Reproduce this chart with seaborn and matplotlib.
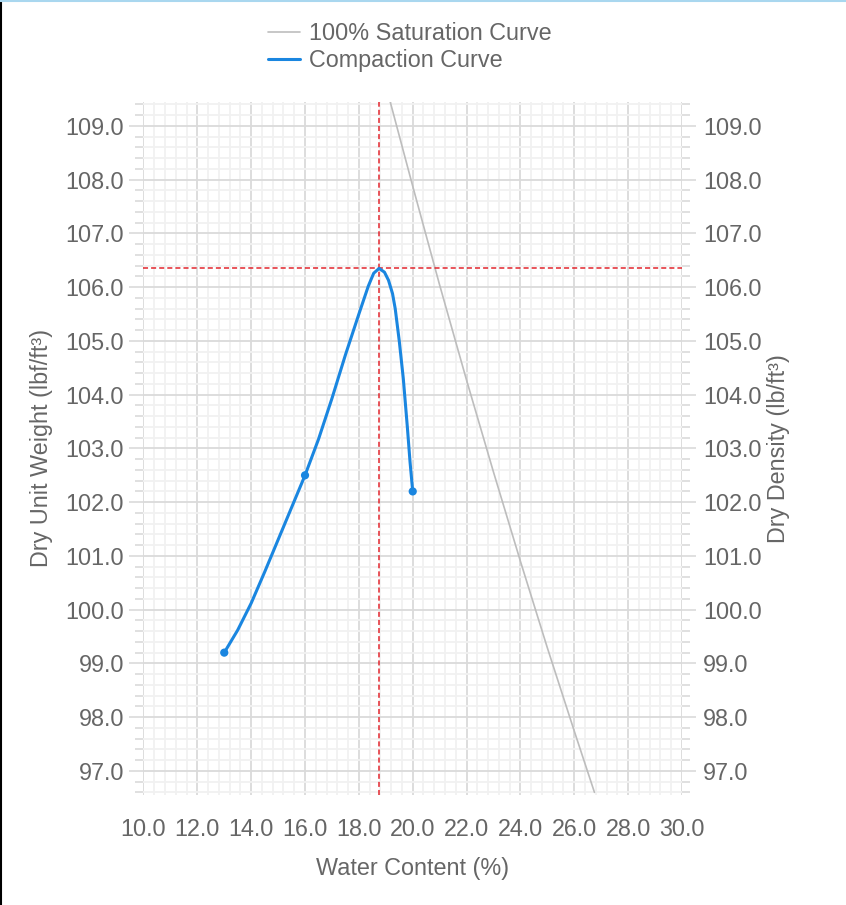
import matplotlib
matplotlib.use("Agg")
import matplotlib.pyplot as plt
from matplotlib.ticker import MultipleLocator, FormatStrFormatter
from matplotlib.lines import Line2D
import seaborn as sns
import pandas as pd

# Compaction test points (water content %, dry unit weight lbf/ft3)
test_wc = [13.0, 16.0, 20.0]
test_dd = [99.2, 102.5, 102.2]

# Smoothed compaction curve
curve_wc = [13.0, 13.5, 14.0, 14.5, 15.0, 15.5, 16.0, 16.5, 17.0, 17.5, 18.0, 18.35,
            18.55, 18.75, 18.95, 19.1, 19.25, 19.35, 19.5, 19.65, 19.8, 19.9, 20.0]
curve_dd = [99.2, 99.62, 100.12, 100.7, 101.3, 101.9, 102.5, 103.17, 103.93, 104.74, 105.5, 106.02,
            106.26, 106.35, 106.28, 106.13, 105.88, 105.6, 105.0, 104.3, 103.4, 102.75, 102.2]

# 100% saturation (zero air voids) line
sat_wc = [19.1, 20.0, 21.0, 22.0, 23.0, 24.0, 25.0, 26.0, 26.75]
sat_dd = [109.57, 107.88, 106.04, 104.27, 102.56, 100.9, 99.29, 97.74, 96.6]

# Optimum water content / max dry unit weight
opt_wc = 18.75
max_dd = 106.35

x_ticks = [10, 12, 14, 16, 18, 20, 22, 24, 26, 28, 30]
y_ticks = [97, 98, 99, 100, 101, 102, 103, 104, 105, 106, 107, 108, 109]

text_col = "#666666"
grid_major = "#dadada"
grid_minor = "#f1f1f1"
blue = "#1a86e0"
red = "#e3262e"
gray = "#bdbdbd"
fs = 16.8

sns.set_theme(style="white")
plt.rcParams["font.family"] = ["Liberation Sans", "DejaVu Sans"]

fig = plt.figure(figsize=(8.46, 9.05), dpi=100)
ax = fig.add_axes([0.1696, 0.1215, 0.6365, 0.766])

sat_df = pd.DataFrame({"wc": sat_wc, "dd": sat_dd})
curve_df = pd.DataFrame({"wc": curve_wc, "dd": curve_dd})
test_df = pd.DataFrame({"wc": test_wc, "dd": test_dd})

sns.lineplot(data=sat_df, x="wc", y="dd", ax=ax, color=gray, linewidth=1.2,
             sort=False, label="100% Saturation Curve", zorder=3)
sns.lineplot(data=curve_df, x="wc", y="dd", ax=ax, color=blue, linewidth=2.2,
             sort=False, label="Compaction Curve", zorder=4)
sns.scatterplot(data=test_df, x="wc", y="dd", ax=ax, color=blue, s=35,
                edgecolor="none", zorder=5, legend=False)

ax.axvline(opt_wc, color=red, linewidth=1.1, linestyle=(0, (3.3, 2)), zorder=3)
ax.axhline(max_dd, color=red, linewidth=1.1, linestyle=(0, (3.3, 2)), zorder=3)

ax.set_xlim(10, 30)
ax.set_ylim(96.55, 109.45)
ax.set_xticks(x_ticks)
ax.set_yticks(y_ticks)
ax.xaxis.set_minor_locator(MultipleLocator(0.4))
ax.yaxis.set_minor_locator(MultipleLocator(0.2))
ax.xaxis.set_major_formatter(FormatStrFormatter("%.1f"))
ax.yaxis.set_major_formatter(FormatStrFormatter("%.1f"))

ax.grid(which="major", color=grid_major, linewidth=1.3, zorder=1)
ax.grid(which="minor", color=grid_minor, linewidth=1.3, zorder=0)
ax.set_axisbelow(True)
for s in ax.spines.values():
    s.set_visible(False)

ax.tick_params(axis="both", which="both", colors=grid_major, labelcolor=text_col,
               labelsize=fs, width=1.2)
ax.tick_params(axis="y", which="major", length=10, pad=4)
ax.tick_params(axis="y", which="minor", length=5.5)
ax.tick_params(axis="x", which="major", length=9.5, pad=7)
ax.tick_params(axis="x", which="minor", length=4)

ax.set_xlabel("Water Content (%)", fontsize=fs, color=text_col)
ax.set_ylabel("Dry Unit Weight (lbf/ft³)", fontsize=fs, color=text_col)
ax.xaxis.set_label_coords(0.5, -0.09)
ax.yaxis.set_label_coords(-0.168, 0.5)

# Right hand axis with the same scale
ax2 = ax.twinx()
ax2.set_ylim(ax.get_ylim())
ax2.set_yticks(y_ticks)
ax2.yaxis.set_minor_locator(MultipleLocator(0.2))
ax2.yaxis.set_major_formatter(FormatStrFormatter("%.1f"))
ax2.grid(False)
for s in ax2.spines.values():
    s.set_visible(False)
ax2.tick_params(axis="y", which="both", colors=grid_major, labelcolor=text_col,
                labelsize=fs, width=1.2)
ax2.tick_params(axis="y", which="major", length=10, pad=5)
ax2.tick_params(axis="y", which="minor", length=5.5)
ax2.set_ylabel("Dry Density (lb/ft³)", fontsize=fs, color=text_col)
ax2.yaxis.set_label_coords(1.158, 0.5)

# Legend above the plot
handles, labels = ax.get_legend_handles_labels()
ax.legend_.remove()
leg = ax2.legend(handles, labels, loc="upper center", bbox_to_anchor=(410 / 846, 1 - 22 / 905),
                 bbox_transform=fig.transFigure, frameon=False, fontsize=fs,
                 handlelength=1.36, handletextpad=0.38, labelspacing=0.18,
                 borderpad=0, borderaxespad=0)
for t in leg.get_texts():
    t.set_color(text_col)

# Screenshot border edges
fig.add_artist(Line2D([0.001, 0.001], [0, 1], transform=fig.transFigure, color="black", linewidth=1.5))
fig.add_artist(Line2D([0, 1], [0.999, 0.999], transform=fig.transFigure, color="#a9d7ef", linewidth=1.5))

fig.savefig("out.png", dpi=100)
